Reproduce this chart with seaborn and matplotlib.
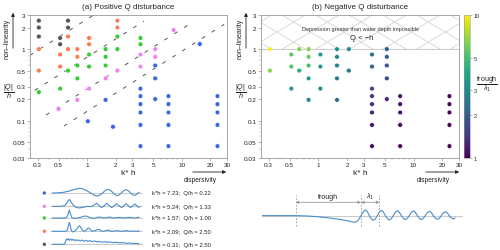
import numpy as np
import pandas as pd
import matplotlib
matplotlib.use("Agg")
import matplotlib.pyplot as plt
import seaborn as sns
from matplotlib.colors import LogNorm
from matplotlib.patches import Rectangle
from matplotlib.ticker import FixedLocator, FixedFormatter, NullFormatter, LogLocator

# ---------------- data ----------------
x_ticks = [0.3, 0.5, 1, 2, 3, 5, 10, 20, 30]
x_ticklabels = ["0.3", "0.5", "1", "2", "3", "5", "10", "20", "30"]
y_ticks = [0.03, 0.05, 0.1, 0.2, 0.3, 0.5, 1, 2, 3]
y_ticklabels = ["0.03", "0.05", "0.1", "0.2", "0.3", "0.5", "1", "2", "3"]
cbar_ticks = [1, 2, 3, 5, 10]
cbar_ticklabels = ["1", "2", "3", "5", "10"]

# (a) positive Q disturbance
pos_kh = [0.31, 0.31, 0.31, 0.31, 0.31, 0.31,
          0.52, 0.52, 0.52, 0.52, 0.52,
          0.50,
          0.63, 0.63, 0.63, 0.63, 0.63,
          0.79, 0.79, 0.79, 0.79, 0.79,
          1.05, 1.05, 1.05, 1.05, 1.05,
          1.02,
          1.57, 1.57, 1.57, 1.57, 1.57,
          1.88,
          2.09, 2.09, 2.09, 2.09, 2.09,
          3.66, 3.66, 3.66, 3.66, 3.66, 3.66, 3.66, 3.66, 3.66, 3.66,
          5.24, 5.24, 5.24, 5.24, 5.24,
          7.23, 7.23, 7.23, 7.23, 7.23,
          8.2,
          15.5,
          23.8, 23.8, 23.8, 23.8, 23.8]
pos_qh = [2.5, 2.0, 1.5, 1.0, 0.5, 0.25,
          1.43, 1.17, 0.84, 0.57, 0.28,
          0.145,
          2.5, 2.0, 1.5, 1.0, 0.5,
          1.0, 0.78, 0.59, 0.39, 0.195,
          1.43, 1.17, 0.84, 0.57, 0.28,
          0.098,
          1.0, 0.78, 0.59, 0.39, 0.195,
          0.082,
          2.5, 2.0, 1.5, 1.0, 0.5,
          1.43, 1.17, 0.84, 0.57, 0.28, 0.22, 0.17, 0.13, 0.087, 0.044,
          1.0, 0.78, 0.59, 0.39, 0.2,
          0.22, 0.17, 0.13, 0.087, 0.044,
          1.85,
          1.18,
          0.22, 0.17, 0.13, 0.087, 0.044]
pos_group = ["grey", "grey", "grey", "orange", "orange", "green",
             "grey", "grey", "orange", "orange", "green",
             "pink",
             "grey", "grey", "orange", "orange", "green",
             "orange", "orange", "green", "green", "pink",
             "orange", "orange", "green", "green", "pink",
             "blue",
             "green", "green", "green", "pink", "blue",
             "blue",
             "orange", "orange", "green", "green", "pink",
             "green", "green", "pink", "pink", "blue", "blue", "blue", "blue", "blue", "blue",
             "pink", "pink", "blue", "blue", "blue",
             "blue", "blue", "blue", "blue", "blue",
             "pink",
             "blue",
             "blue", "blue", "blue", "blue", "blue"]
group_colors = {"grey": "#555555", "orange": "#fa7d50", "green": "#33cc33",
                "pink": "#ee82ee", "blue": "#3a66e0"}

# dashed guide lines (start / end points)
diag_kh_start = [0.25, 0.28, 0.37, 0.57]
diag_qh_start = [0.82, 0.265, 0.12, 0.084]
diag_kh_end = [1.15, 4.0, 13.0, 28.0]
diag_qh_end = [2.95, 2.47, 2.38, 2.22]

# (b) negative Q disturbance
neg_kh = [0.31, 0.31,
          0.52, 0.52, 0.52,
          0.63, 0.63,
          0.79, 0.79, 0.79, 0.79, 0.79,
          1.05, 1.05, 1.05,
          1.57, 1.57, 1.57, 1.57, 1.57,
          2.09, 2.09,
          3.66, 3.66, 3.66, 3.66, 3.66, 3.66, 3.66, 3.66,
          5.24, 5.24, 5.24, 5.24, 5.24,
          7.23, 7.23, 7.23, 7.23, 7.23,
          23.8, 23.8, 23.8, 23.8, 23.8]
neg_qh = [1.0, 0.5,
          0.84, 0.57, 0.28,
          1.0, 0.5,
          1.0, 0.78, 0.59, 0.39, 0.195,
          0.84, 0.57, 0.28,
          1.0, 0.78, 0.59, 0.39, 0.195,
          1.0, 0.5,
          0.84, 0.57, 0.28, 0.22, 0.17, 0.13, 0.087, 0.044,
          1.0, 0.78, 0.59, 0.39, 0.2,
          0.22, 0.17, 0.13, 0.087, 0.044,
          0.22, 0.17, 0.13, 0.087, 0.044]
neg_ratio = [10.0, 6.5,
             5.6, 5.4, 3.4,
             6.4, 4.3,
             6.4, 5.8, 5.0, 3.5, 2.9,
             3.6, 3.4, 3.0,
             3.1, 2.9, 2.7, 2.6, 2.3,
             2.9, 2.4,
             2.3, 2.1, 1.6, 1.45, 1.35, 1.25, 1.15, 1.08,
             2.0, 1.95, 1.85, 1.65, 1.3,
             1.15, 1.12, 1.1, 1.07, 1.04,
             1.0, 1.0, 1.0, 1.0, 1.0]

# example surface profiles (x: arbitrary units, y: elevation)
wave_kh = [7.23, 5.24, 1.57, 2.09, 0.31]
wave_qh = [0.22, 1.33, 1.00, 2.50, 2.50]
wave_group = ["blue", "pink", "green", "orange", "grey"]
wave_x = [
    [157, 175, 190, 205, 218, 230, 240, 250, 262, 272, 282, 290, 298, 307, 315, 322, 330,
     338, 345, 350, 357, 365, 372, 379, 386, 394, 400, 405, 411, 418],
    [157, 185, 195, 202, 208, 214, 220, 228, 238, 250, 262, 270, 278, 284, 290, 297, 305,
     312, 320, 327, 335, 342, 350, 357, 365, 371, 378, 385, 392, 398, 405, 410, 416, 420],
    [157, 195, 200, 204, 208, 212, 216, 222, 232, 242, 250, 258, 266, 274, 282, 292, 300,
     310, 320, 330, 340, 350, 360, 370, 380, 390, 400, 410, 418],
    [157, 198, 202, 205, 208, 211, 214, 218, 224, 230, 235, 239, 243, 248, 253, 258, 263,
     267, 272, 278, 285, 292, 297, 302, 310, 318, 324, 330, 340, 350, 358, 368, 378, 390,
     400, 410, 418],
    [157, 193, 196, 199, 202, 205, 208, 212, 215, 219, 223, 227, 231, 236, 241, 246, 252,
     258, 264, 270, 277, 284, 291, 298, 306, 314, 322, 330, 340, 350, 360, 370, 380, 390,
     400, 410, 418],
]
wave_y = [
    [0, 0.5, 2, 5, 9, 12.5, 14, 12, 6, 0, -6, -9, -7, -1, 7, 11, 9, 2, -5, -8, -6, 1, 8,
     10, 6, -2, -6, -7, -3, 2],
    [0, 0, 3, 12, 21, 12, 3, -3, -5, -3, 0, -1, 1, 5, 9, 3, -4, 1, 9, 3, -4, 1, 8, 2, -4,
     1, 8, 2, -4, 1, 7, 2, -3, -1],
    [0, 0, 2, 10, 24, 10, 1, -1, 0, 2, 5, 6, 3, 0, -1, 2, 3, 0, 1, 3, 0, 1, 2, 0, 1, 2, 0,
     1, 2],
    [0, 0, 4, 16, 27, 15, 3, -2, 1, 6, 14, 17, 10, 2, 0, 3, 9, 10, 4, 0, 2, 5, 6, 2, 0, 2,
     4, 1, 0, 2, 1, 0, 2, 0, 1, 0, 1],
    [0, 0, 6, 16, 13, 17, 12, 16, 12, 15, 11, 14, 11, 13, 10, 13, 9, 12, 9, 11, 8, 10, 7,
     9, 6, 8, 6, 7, 5, 6, 4, 5, 3, 4, 2, 3, 1],
]

# trough / lambda_1 sketch
trough_x = [35, 140, 170, 200, 230, 260, 285, 300, 312, 320, 326, 332, 337, 341, 346,
            352, 358, 364, 370, 376, 382, 388, 394, 400, 406, 412, 418, 424, 430, 436,
            442, 448, 454, 460, 466, 472, 478, 484, 490, 496, 502, 508, 514, 520, 526,
            532, 538, 544, 550, 556, 562, 568, 574, 580, 586, 592, 598, 604, 610, 615]
trough_y = [0, 0, -1, -3, -6, -10, -14, -17, -20, -18, -12, -2, 7, 13, 17,
            12, 0, -10, -14, -10, 0, 11, 16, 11, 0, -9, -13, -9, 0, 10,
            15, 10, 0, -8, -12, -8, 0, 10, 14, 10, 0, -8, -12, -8, 0,
            9, 13, 9, 0, -8, -11, -8, 0, 8, 12, 8, 0, -7, -10, -7]
trough_start, trough_end, lambda_end = 137, 333, 388

# ---------------- style ----------------
sns.set_theme(style="white")
plt.rcParams["font.family"] = ["Liberation Sans", "DejaVu Sans"]
plt.rcParams["mathtext.fontset"] = "custom"
plt.rcParams["mathtext.rm"] = "Liberation Sans"
plt.rcParams["mathtext.it"] = "Liberation Sans:italic"
plt.rcParams["mathtext.bf"] = "Liberation Sans:bold"
plt.rcParams["text.color"] = "#222222"

W, H = 500, 251
fig = plt.figure(figsize=(5.0, 2.51), dpi=100)
fig.patch.set_facecolor("white")


def fx(px):
    return px / W


def fy(py):
    return 1 - py / H


ax_top, ax_bot = 16, 159
axL = fig.add_axes([fx(30), fy(ax_bot), (227 - 30) / W, (ax_bot - ax_top) / H])
axR = fig.add_axes([fx(261), fy(ax_bot), (459 - 261) / W, (ax_bot - ax_top) / H])
cax = fig.add_axes([fx(464), fy(ax_bot), 6 / W, (ax_bot - ax_top) / H])


def style_axes(ax):
    ax.set_xscale("log")
    ax.set_yscale("log")
    ax.set_xlim(0.25, 30)
    ax.set_ylim(0.03, 3)
    ax.xaxis.set_major_locator(FixedLocator(x_ticks))
    ax.xaxis.set_major_formatter(FixedFormatter(x_ticklabels))
    ax.yaxis.set_major_locator(FixedLocator(y_ticks))
    ax.yaxis.set_major_formatter(FixedFormatter(y_ticklabels))
    ax.xaxis.set_minor_locator(LogLocator(subs=np.arange(2, 10) * 1.0, numticks=20))
    ax.yaxis.set_minor_locator(LogLocator(subs=np.arange(2, 10) * 1.0, numticks=20))
    ax.xaxis.set_minor_formatter(NullFormatter())
    ax.yaxis.set_minor_formatter(NullFormatter())
    ax.tick_params(which="major", bottom=True, left=True, labelsize=4.6, length=2,
                   width=0.4, color="#777777", pad=1.2, labelcolor="#222222")
    ax.tick_params(which="minor", bottom=True, left=True, length=1.2, width=0.3,
                   color="#999999")
    for s in ax.spines.values():
        s.set_color("#999999")
        s.set_linewidth(0.6)
    ax.set_xlabel("k* h", fontsize=6, labelpad=1)
    ax.set_ylabel("")


# ----- (a) -----
style_axes(axL)
for x0, y0, x1, y1 in zip(diag_kh_start, diag_qh_start, diag_kh_end, diag_qh_end):
    axL.plot([x0, x1], [y0, y1], color="#555555", lw=0.7,
             linestyle=(0, (4.0, 8.0)), zorder=1)
df_pos = pd.DataFrame({"kh": pos_kh, "qh": pos_qh, "g": pos_group})
sns.scatterplot(data=df_pos, x="kh", y="qh", hue="g", palette=group_colors, s=11,
                edgecolor="white", linewidth=0.3, legend=False, ax=axL, zorder=3)
style_axes(axL)
axL.set_title("(a) Positive Q disturbance", fontsize=5.8, pad=5)

# ----- (b) -----
style_axes(axR)
norm = LogNorm(1, 10)
y1_frac = (np.log10(1) - np.log10(0.03)) / (np.log10(3) - np.log10(0.03))
clip_rect = Rectangle((0, y1_frac), 1, 1 - y1_frac, transform=axR.transAxes,
                      facecolor="none", edgecolor="none")
axR.add_patch(clip_rect)
slope = 0.83
yc = (1 + y1_frac) / 2
for off in np.arange(-0.6, 1.7, 0.17):
    for sgn in (1, -1):
        ln, = axR.plot([off - 0.5, off + 0.5], [yc - sgn * 0.5 * slope, yc + sgn * 0.5 * slope],
                       transform=axR.transAxes, color="#d4d4d4", lw=0.6, zorder=0)
        ln.set_clip_path(clip_rect)
axR.axhline(1.0, color="#cccccc", lw=0.8, zorder=1)
axR.text(0.5, 0.905, "Depression greater than water depth impossible", transform=axR.transAxes,
         ha="center", va="center", fontsize=4, color="#333333")
axR.text(0.51, 0.843, "Q < −h", transform=axR.transAxes, ha="center", va="center",
         fontsize=5.5, color="#222222")
df_neg = pd.DataFrame({"kh": neg_kh, "qh": neg_qh, "r": neg_ratio})
sns.scatterplot(data=df_neg, x="kh", y="qh", hue="r", palette="viridis", hue_norm=norm,
                s=11, edgecolor="white", linewidth=0.3, legend=False, ax=axR, zorder=3)
style_axes(axR)
axR.set_title("(b) Negative Q disturbance", fontsize=5.8, pad=5)

sm = plt.cm.ScalarMappable(norm=norm, cmap="viridis")
cb = fig.colorbar(sm, cax=cax)
cb.ax.minorticks_off()
cb.set_ticks(cbar_ticks)
cb.set_ticklabels(cbar_ticklabels)
cb.ax.tick_params(labelsize=4, length=1.5, width=0.4, pad=1, color="#777777", right=True)
cb.outline.set_linewidth(0.4)
cb.outline.set_edgecolor("#999999")
fig.text(fx(487), fy(84), r"$\dfrac{\mathrm{trough}}{\lambda_1}$", fontsize=5,
         ha="center", va="center")

# ----- axis annotations -----
for xt, xa, xq in [(7, 13, 9), (240, 246, 241)]:
    fig.text(fx(xt), fy(39), "non–linearity", rotation=90, fontsize=5, ha="center",
             va="center")
    fig.text(fx(xq), fy(92), r"$\dfrac{|Q|}{h}$", fontsize=5.2, ha="center", va="center")
    axL.annotate("", xy=(fx(xa), fy(11)), xytext=(fx(xa), fy(52)), xycoords="figure fraction",
                 textcoords="figure fraction",
                 arrowprops=dict(arrowstyle="-|>", lw=0.6, color="#222222", mutation_scale=5))
for xs, xe, xtc in [(190, 229, 200), (423, 462, 433)]:
    axL.annotate("", xy=(fx(xe), fy(173)), xytext=(fx(xs), fy(173)), xycoords="figure fraction",
                 textcoords="figure fraction",
                 arrowprops=dict(arrowstyle="-|>", lw=0.6, color="#222222", mutation_scale=5))
    fig.text(fx(xtc), fy(180), "dispersivity", fontsize=4.8, ha="center", va="center")

# ----- example profiles (bottom left) -----
row_base = [194, 207.3, 219, 232.3, 245.3]
for i, base in enumerate(row_base):
    axw = fig.add_axes([fx(50), fy(base + 4), (143.3 - 50) / W, 14 / H])
    axw.set_xlim(150, 430)
    axw.set_ylim(-12, 30)
    axw.axhline(0, color="#cccccc", lw=0.8, zorder=1)
    sns.lineplot(x=wave_x[i], y=wave_y[i], ax=axw, color="#4a8dcb", lw=0.8,
                 estimator=None, sort=False, zorder=2)
    axw.axis("off")
    axw.scatter([-0.061], [12 / 42], transform=axw.transAxes, s=6,
                color=group_colors[wave_group[i]], clip_on=False, edgecolor="none")
    axw.text(1.09, 12 / 42, f"k*h = {wave_kh[i]:.2f};  Q/h = {wave_qh[i]:.2f}",
             transform=axw.transAxes, fontsize=4.2, va="center", ha="left")

# ----- trough sketch (bottom right) -----
axT = fig.add_axes([fx(261.7), fy(228.3), (463.3 - 261.7) / W, 35 / H])
axT.set_xlim(35, 640)
axT.set_ylim(-35, 70)
axT.plot([35, 635], [0, 0], color="#cccccc", lw=0.8, zorder=1)
sns.lineplot(x=trough_x, y=trough_y, ax=axT, color="#4a8dcb", lw=0.8, estimator=None,
             sort=False, zorder=2)
for xv in (trough_start, trough_end, lambda_end):
    axT.plot([xv, xv], [-32, 62], color="#999999", lw=0.6, linestyle=(0, (2, 2)))
for xa, xb, lab, fs in [(trough_start, trough_end, "trough", 5),
                        (trough_end, lambda_end, r"$\lambda_1$", 5)]:
    axT.annotate("", xy=(xb, 40), xytext=(xa, 40),
                 arrowprops=dict(arrowstyle="<|-|>", lw=0.6, color="#999999",
                                 mutation_scale=4, shrinkA=0, shrinkB=0))
    axT.text((xa + xb) / 2, 58, lab, fontsize=fs, ha="center", va="center")
axT.axis("off")

fig.savefig("out.png", dpi=100, facecolor="white")
